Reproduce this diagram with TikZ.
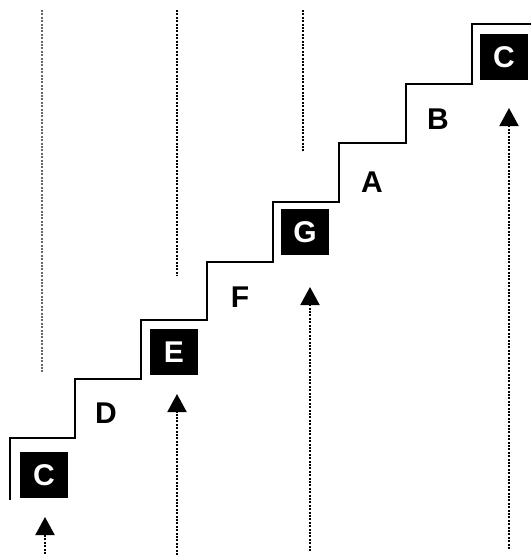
\documentclass[tikz,border=0pt]{standalone}
\usepackage{fontspec}
\setmainfont{Liberation Sans}
\usepackage{tikz}
\usetikzlibrary{arrows.meta}
\usetikzlibrary{positioning}

\begin{document}
\begin{tikzpicture}[
  x=1pt, y=-1pt,
  blk/.style={fill=black, text=white, minimum width=48pt, minimum height=46pt,
    inner sep=0pt, font=\fontsize{30}{32}\selectfont\bfseries},
  lbl/.style={inner sep=0pt, font=\fontsize{30}{32}\selectfont\bfseries},
  stair/.style={line width=2pt, line join=miter},
  guide/.style={line width=2pt, dash pattern=on 2pt off 1.4pt},
  riser/.style={guide, -{Triangle[width=19pt,length=18pt]}}
]
\useasboundingbox (0,0) rectangle (531,557);

% staircase
\draw[stair] (10,500) -- (10,438) -- (75,438) -- (75,379) -- (141,379)
  -- (141,320) -- (207,320) -- (207,262) -- (273,262) -- (273,202)
  -- (339,202) -- (339,143) -- (406,143) -- (406,84) -- (472,84)
  -- (472,24) -- (531,24);

% boxes on the steps
\node[blk] (c1) at (44,475) {C};
\node[blk] (e) at (174,352) {E};
\node[blk] (g) at (305,232) {G};
\node[blk] (c2) at (504,57) {C};

% step labels
\node[lbl] (d) at (106,413) {D};
\node[lbl] (f) at (240,297) {F};
\node[lbl] (a) at (372,182) {A};
\node[lbl] (b) at (438,119) {B};

% lines from below
\coordinate (c1bot) at (45,554);
\coordinate (c1tip) at (45,517);
\coordinate (ebot) at (177,555);
\coordinate (etip) at (177,394);
\coordinate (gbot) at (310,551);
\coordinate (gtip) at (310,287);
\coordinate (c2bot) at (509,549);
\coordinate (c2tip) at (509,108);
\draw[riser] (c1bot) -- (c1tip);
\draw[riser] (ebot) -- (etip);
\draw[riser] (gbot) -- (gtip);
\draw[riser] (c2bot) -- (c2tip);

% lines from above
\coordinate (t1) at (42,10);
\coordinate (t1end) at (42,373);
\coordinate (t2) at (177,10);
\coordinate (t2end) at (177,276);
\coordinate (t3) at (303,10);
\coordinate (t3end) at (303,152);
\draw[guide, line width=1.4pt, black!60] (t1) -- (t1end);
\draw[guide] (t2) -- (t2end);
\draw[guide] (t3) -- (t3end);
\end{tikzpicture}
\end{document}
